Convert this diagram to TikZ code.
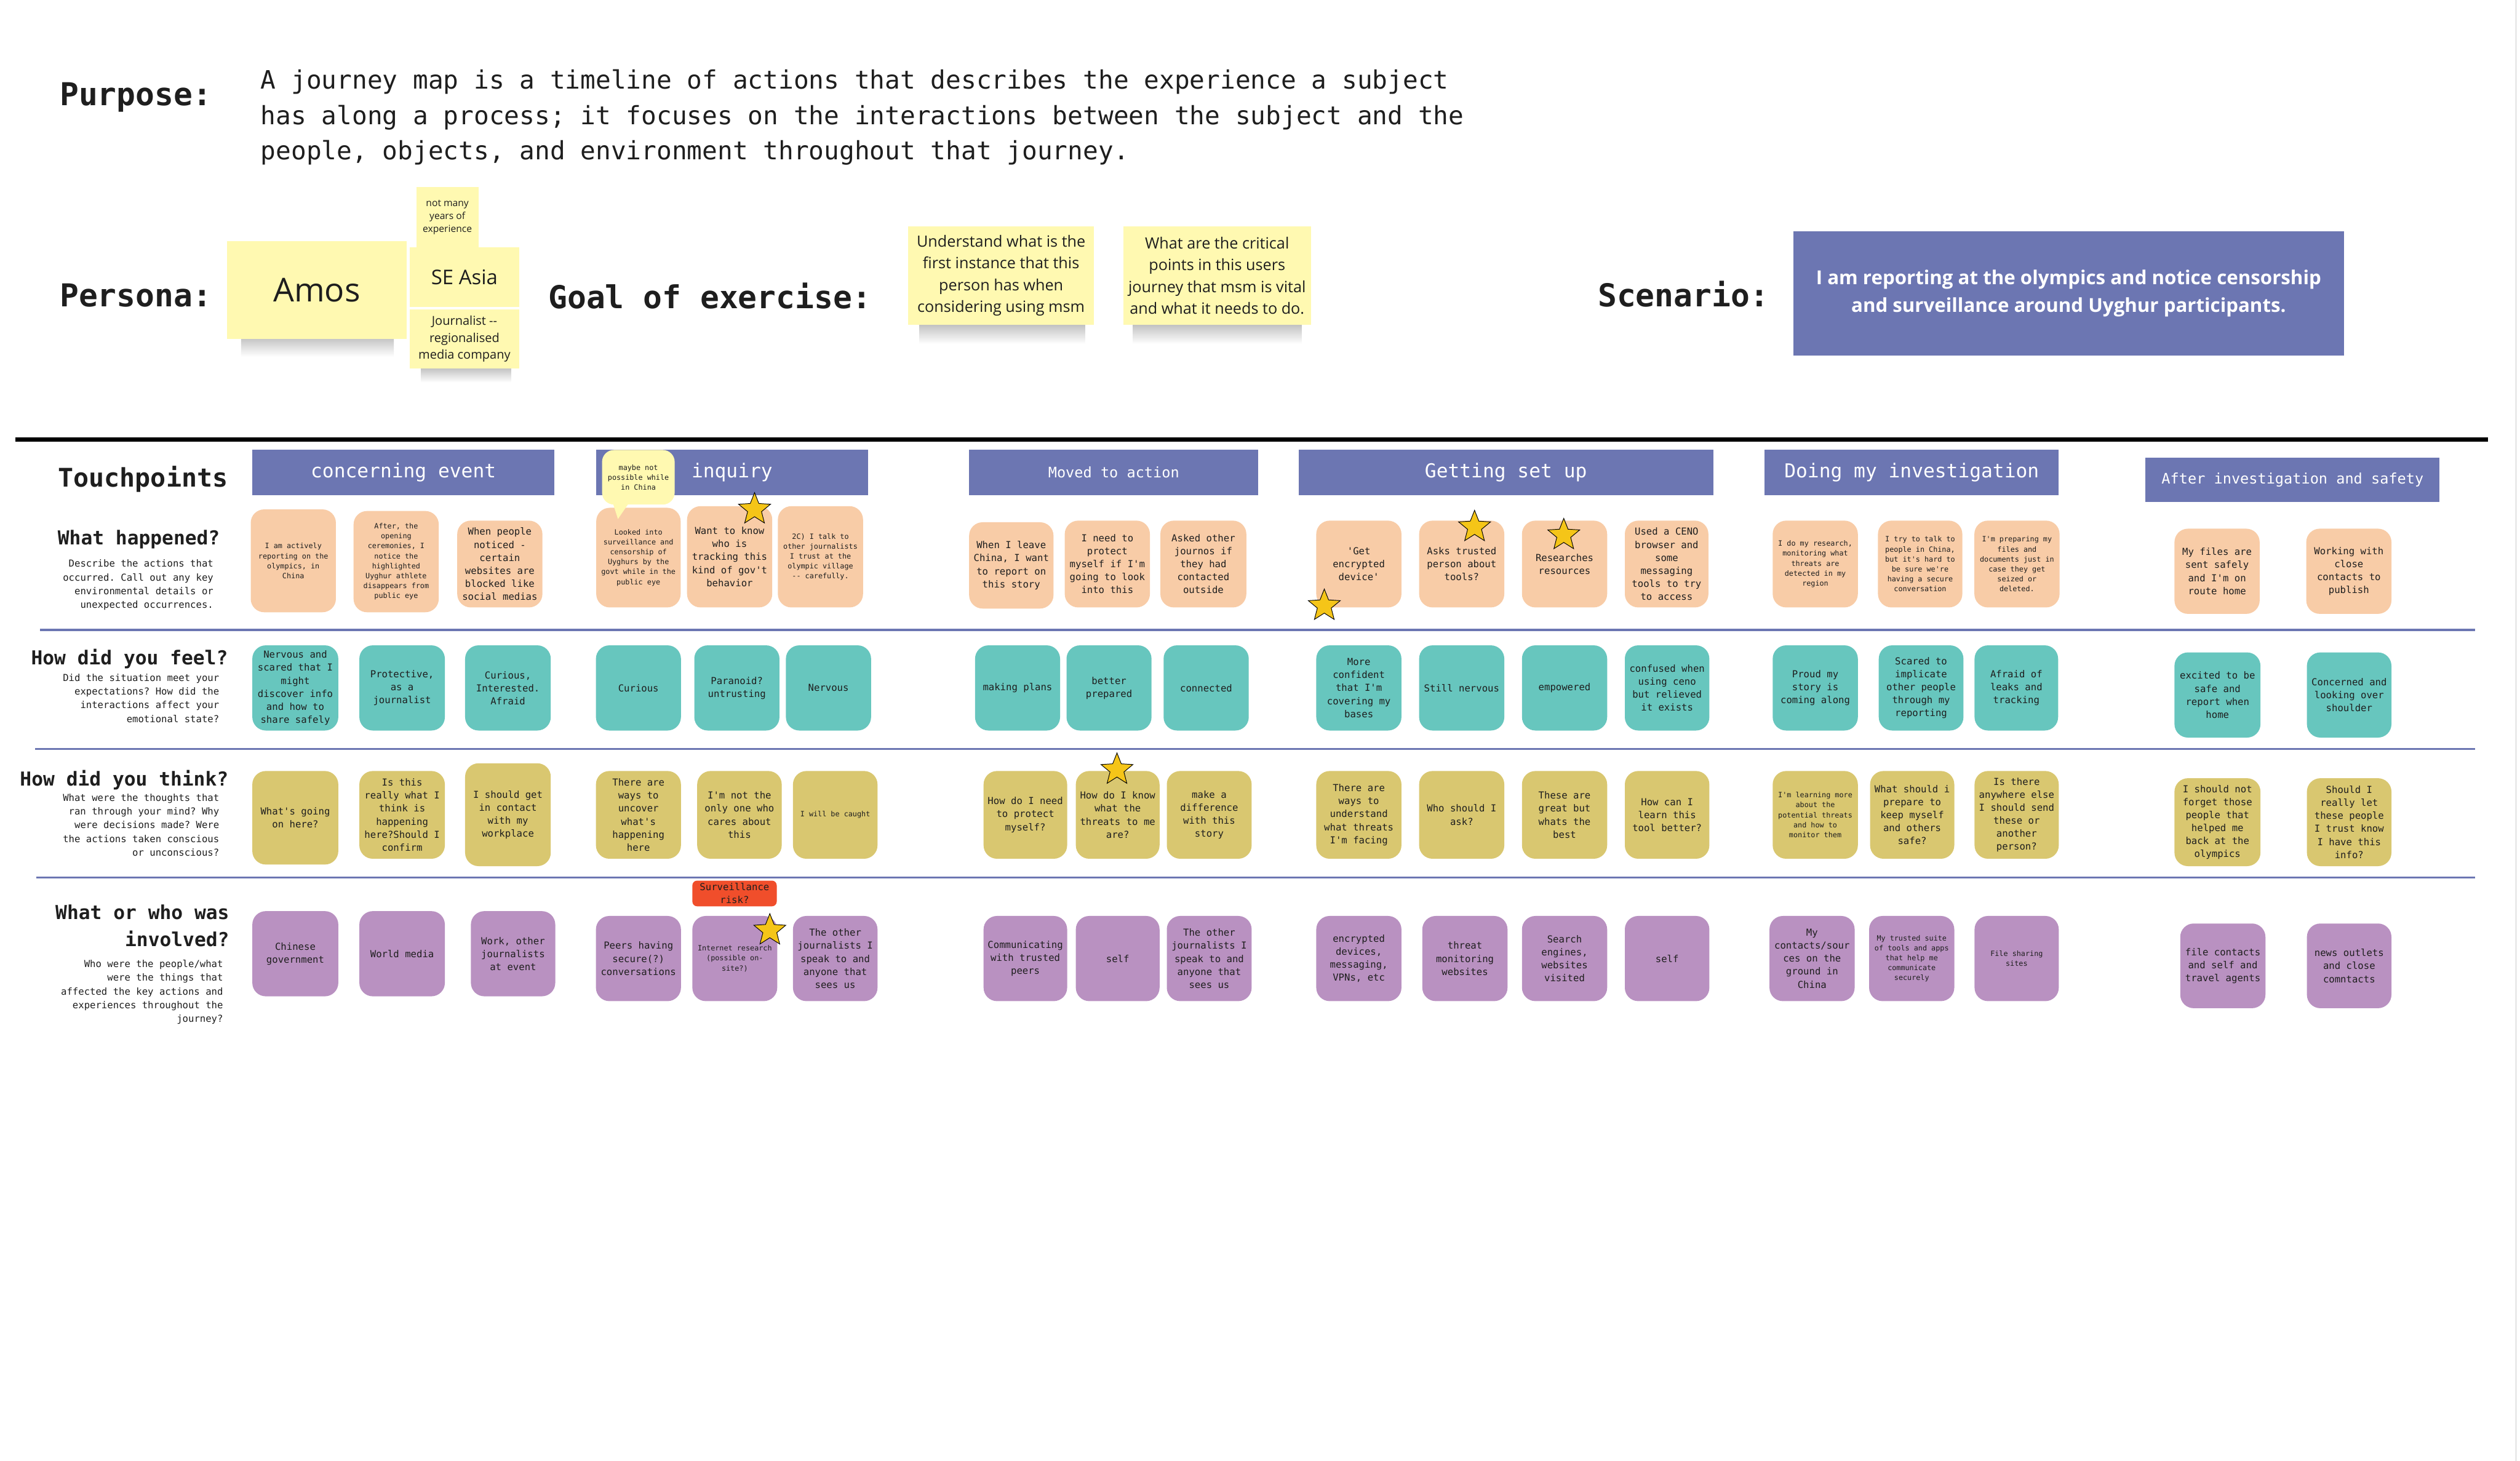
\documentclass[tikz,border=0pt]{standalone}
\usepackage{fontspec}
\setmainfont{Open Sans}
\setmonofont{DejaVu Sans Mono}
\usetikzlibrary{shapes.geometric}
\definecolor{hdrblue}{HTML}{6C76B2}
\definecolor{peach}{HTML}{F8CCA7}
\definecolor{tealn}{HTML}{67C6BE}
\definecolor{khaki}{HTML}{D9C770}
\definecolor{purp}{HTML}{B991C1}
\definecolor{stickyy}{HTML}{FFF9B1}
\definecolor{redn}{HTML}{F04E2B}
\definecolor{stary}{HTML}{F5C518}
\definecolor{ink}{HTML}{1E1E1E}
\newcommand\jnfont{\ttfamily\fontsize{5.7}{7.7}\selectfont}
\newcommand\jtfont{\ttfamily\fontsize{4.3}{5.9}\selectfont}
\newcommand\jnote[7]{\node[#6, minimum width={(#4-#2)*0.3349mm}, minimum height={(#5-#3)*0.3349mm}] (#1) at ({(#2+#4)/2},{(#3+#5)/2}) {#7};}
\tikzset{
  note/.style={rounded corners=2.8mm, inner sep=0pt, align=center, font=\jnfont, text=ink},
  pk/.style={note, fill=peach},
  tl/.style={note, fill=tealn},
  kh/.style={note, fill=khaki},
  pu/.style={note, fill=purp},
  tny/.style={font=\jtfont},
  bar/.style={fill=hdrblue, inner sep=0pt, text=white, font=\ttfamily\fontsize{11.4}{13}\selectfont},
  barsm/.style={bar, font=\ttfamily\fontsize{8.6}{10}\selectfont},
  ylw/.style={fill=stickyy, inner sep=0pt, align=center, text=ink},
  starn/.style={star, star points=5, star point ratio=2.3, fill=stary, draw=black, line width=0.35pt, minimum size=7mm, inner sep=0pt},
  rowtitle/.style={anchor=east, align=right, font=\ttfamily\bfseries\fontsize{11.4}{16}\selectfont, text=ink, inner sep=0pt},
  rowdesc/.style={anchor=east, align=right, font=\ttfamily\fontsize{5.7}{8.1}\selectfont, text=ink, inner sep=0pt},
  bigtitle/.style={anchor=west, font=\ttfamily\bfseries\fontsize{18.7}{22}\selectfont, inner sep=0pt, text=ink},
  sepline/.style={draw=hdrblue, line width=0.44mm},
  shd/.style={top color=black!24, bottom color=white}
}
\begin{document}
\begin{tikzpicture}[x=0.3349mm, y=-0.3349mm]
\useasboundingbox (0,0) rectangle (1568,909);
\fill[white] (0,0) rectangle (1568,909);
\draw[black!22, line width=0.4pt] (1565.5,0) -- (1565.5,909);

% ---------- header ----------
\node[bigtitle] (purpose) at (37,60.5) {Purpose:};
\node[anchor=west, align=left, inner sep=0pt, text=ink, font=\ttfamily\fontsize{15}{21}\selectfont] (purposetext) at (162,73)
 {A journey map is a timeline of actions that describes the experience a subject\\has along a process; it focuses on the interactions between the subject and the\\people, objects, and environment throughout that journey.};

\node[bigtitle] (persona) at (37,184) {Persona:};
\node[bigtitle] (goal) at (341,184) {Goal of exercise:};
\node[bigtitle] (scen) at (994,183) {Scenario:};

% sticky shadows
\shade[shd] (150,210) rectangle (245,222);
\shade[shd] (262,229) rectangle (318,238);
\shade[shd] (572,202) rectangle (675,214);
\shade[shd] (705,202) rectangle (810,214);

\jnote{amos}{141.4}{150}{252.9}{210.8}{ylw, font=\fontsize{19.5}{22}\selectfont}{Amos}
\jnote{years}{259}{116.5}{297.7}{154}{ylw, font=\fontsize{5.7}{7.6}\selectfont}{not many\\years of\\experience}
\jnote{seasia}{255}{154}{323}{191}{ylw, font=\fontsize{12}{14}\selectfont}{SE Asia}
\jnote{journo}{255}{192.5}{323}{229.4}{ylw, font=\fontsize{7.3}{10}\selectfont}{Journalist -{}-\\regionalised\\media company}
\jnote{goalA}{565}{141}{680.8}{202}{ylw, font=\fontsize{9.2}{12.9}\selectfont}{Understand what is the\\first instance that this\\person has when\\considering using msm}
\jnote{goalB}{699}{141}{815.6}{202}{ylw, font=\fontsize{9.2}{12.9}\selectfont}{What are the critical\\points in this users\\journey that msm is vital\\and what it needs to do.}
\jnote{scenario}{1115.7}{144}{1458.6}{221.3}{fill=hdrblue, inner sep=0pt, align=center, text=white, font=\bfseries\fontsize{11.4}{16.4}\selectfont}{I am reporting at the olympics and notice censorship\\and surveillance around Uyghur participants.}

% ---------- rules ----------
\draw[black, line width=0.8mm] (9.5,273.5) -- (1548,273.5);
\draw[sepline] (25,392) -- (1540,392);
\draw[sepline] (22,466) -- (1540,466);
\draw[sepline] (22.5,546) -- (1540,546);

% ---------- row labels ----------
\node[anchor=east, inner sep=0pt, text=ink, font=\ttfamily\bfseries\fontsize{15.2}{18}\selectfont] (touch) at (142,298) {Touchpoints};
\node[rowtitle] (happened) at (137,335.5) {What happened?};
\node[rowdesc] (happeneddesc) at (133,364) {Describe the actions that\\occurred. Call out any key\\environmental details or\\unexpected occurrences.};
\node[rowtitle] (feel) at (142,410) {How did you feel?};
\node[rowdesc] (feeldesc) at (136.6,434.5) {Did the situation meet your\\expectations? How did the\\interactions affect your\\emotional state?};
\node[rowtitle] (think) at (142.3,485.5) {How did you think?};
\node[rowdesc] (thinkdesc) at (136.6,513.4) {What were the thoughts that\\ran through your mind? Why\\were decisions made? Were\\the actions taken conscious\\or unconscious?};
\node[rowtitle] (involved) at (142.8,576) {What or who was\\involved?};
\node[rowdesc] (involveddesc) at (139,617.4) {Who were the people/what\\were the things that\\affected the key actions and\\experiences throughout the\\journey?};

% ---------- stage bars ----------
\jnote{barA}{157}{280}{345}{308}{bar}{concerning event}
\jnote{barB}{371}{280}{540}{308}{bar}{inquiry}
\jnote{barC}{603}{280}{783}{308}{barsm}{Moved to action}
\jnote{barD}{808}{280}{1066}{308}{bar}{Getting set up}
\jnote{barE}{1098}{280}{1281}{308}{bar}{Doing my investigation}
\jnote{barF}{1335}{284.7}{1518}{312.3}{barsm}{After investigation and safety}

% ---------- row 1: what happened ----------
\jnote{S1}{156}{317}{209}{381}{pk,tny}{I am actively\\reporting on the\\olympics, in\\China}
\jnote{S2}{220}{318}{273}{381}{pk,tny}{After, the\\opening\\ceremonies, I\\notice the\\highlighted\\Uyghur athlete\\disappears from\\public eye}
\jnote{S3}{284.5}{324}{337.5}{378}{pk}{When people\\noticed -\\certain\\websites are\\blocked like\\social medias}
\jnote{S4}{371}{316}{423.5}{378}{pk,tny}{Looked into\\surveillance and\\censorship of\\Uyghurs by the\\govt while in the\\public eye}
\jnote{S5}{427.5}{315}{480.5}{378}{pk}{Want to know\\who is\\tracking this\\kind of gov't\\behavior}
\jnote{S6}{484}{315}{537}{378}{pk,tny}{2C) I talk to\\other journalists\\I trust at the\\olympic village\\-- carefully.}
\jnote{M1}{603}{325}{655.5}{378.7}{pk}{When I leave\\China, I want\\to report on\\this story}
\jnote{M2}{662.5}{324}{715.5}{378}{pk}{I need to\\protect\\myself if I'm\\going to look\\into this}
\jnote{M3}{722}{324}{775.5}{378}{pk}{Asked other\\journos if\\they had\\contacted\\outside}
\jnote{G1}{819}{324}{872}{378}{pk}{'Get\\encrypted\\device'}
\jnote{G2}{883}{324}{936}{378}{pk}{Asks trusted\\person about\\tools?}
\jnote{G3}{947}{324}{1000}{378}{pk}{Researches\\resources}
\jnote{G4}{1011}{324}{1063}{378}{pk}{Used a CENO\\browser and\\some\\messaging\\tools to try\\to access}
\jnote{D1}{1103}{324}{1156}{378}{pk,tny}{I do my research,\\monitoring what\\threats are\\detected in my\\region}
\jnote{D2}{1168.5}{324}{1221}{378}{pk,tny}{I try to talk to\\people in China,\\but it's hard to\\be sure we're\\having a secure\\conversation}
\jnote{D3}{1228.5}{324}{1281.5}{378}{pk,tny}{I'm preparing my\\files and\\documents just in\\case they get\\seized or\\deleted.}
\jnote{A1}{1353}{329}{1406}{382}{pk}{My files are\\sent safely\\and I'm on\\route home}
\jnote{A2}{1435}{329}{1488}{382}{pk}{Working with\\close\\contacts to\\publish}

% speech bubble
\jnote{bub}{374.6}{280}{419.8}{314}{ylw, rounded corners=2.5mm, font=\jtfont}{maybe not\\possible while\\in China}
\fill[stickyy] (381,312) -- (392,312) -- (384.5,323) -- cycle;

% ---------- row 2: feel ----------
\jnote{F1}{157}{401.6}{210.5}{454.6}{tl}{Nervous and\\scared that I\\might\\discover info\\and how to\\share safely}
\jnote{F2}{223.6}{401.6}{276.8}{454.6}{tl}{Protective,\\as a\\journalist}
\jnote{F3}{289.4}{401.6}{342.7}{454.6}{tl}{Curious,\\Interested.\\Afraid}
\jnote{F4}{370.8}{401.6}{423.7}{454.6}{tl}{Curious}
\jnote{F5}{432}{401.6}{485}{454.6}{tl}{Paranoid?\\untrusting}
\jnote{F6}{489}{401.6}{542}{454.6}{tl}{Nervous}
\jnote{F7}{606.7}{401.6}{659.6}{454.6}{tl}{making plans}
\jnote{F8}{663.6}{401.6}{716.5}{454.6}{tl}{better\\prepared}
\jnote{F9}{724}{401.6}{777}{454.6}{tl}{connected}
\jnote{F10}{819}{401.6}{872}{454.6}{tl}{More\\confident\\that I'm\\covering my\\bases}
\jnote{F11}{883}{401.6}{936}{454.6}{tl}{Still nervous}
\jnote{F12}{947}{401.6}{1000}{454.6}{tl}{empowered}
\jnote{F13}{1011}{401.6}{1063.6}{454.6}{tl}{confused when\\using ceno\\but relieved\\it exists}
\jnote{F14}{1103}{401.6}{1156}{454.6}{tl}{Proud my\\story is\\coming along}
\jnote{F15}{1169}{401.6}{1221.7}{454.6}{tl}{Scared to\\implicate\\other people\\through my\\reporting}
\jnote{F16}{1228.6}{401.6}{1280.6}{454.6}{tl}{Afraid of\\leaks and\\tracking}
\jnote{F17}{1353}{406}{1406.5}{459}{tl}{excited to be\\safe and\\report when\\home}
\jnote{F18}{1435.4}{406}{1488}{459}{tl}{Concerned and\\looking over\\shoulder}

% ---------- row 3: think ----------
\jnote{T1}{157}{479.8}{210.5}{538}{kh}{What's going\\on here?}
\jnote{T2}{223.6}{479.8}{276.8}{534.4}{kh}{Is this\\really what I\\think is\\happening\\here?Should I\\confirm}
\jnote{T3}{289.4}{475}{342.7}{539}{kh}{I should get\\in contact\\with my\\workplace}
\jnote{T4}{370.8}{479.8}{423.7}{534.4}{kh}{There are\\ways to\\uncover\\what's\\happening\\here}
\jnote{T5}{433.8}{479.8}{486.4}{534.4}{kh}{I'm not the\\only one who\\cares about\\this}
\jnote{T6}{493.4}{479.8}{546}{534.4}{kh,tny}{I will be caught}
\jnote{T7}{612}{479.8}{664}{534.4}{kh}{How do I need\\to protect\\myself?}
\jnote{T8}{669.4}{479.8}{721.5}{534.4}{kh}{How do I know\\what the\\threats to me\\are?}
\jnote{T9}{726}{479.8}{778.8}{534.4}{kh}{make a\\difference\\with this\\story}
\jnote{T10}{819}{479.8}{872}{534.4}{kh}{There are\\ways to\\understand\\what threats\\I'm facing}
\jnote{T11}{883}{479.8}{936}{534.4}{kh}{Who should I\\ask?}
\jnote{T12}{947}{479.8}{1000}{534.4}{kh}{These are\\great but\\whats the\\best}
\jnote{T13}{1011}{479.8}{1063.6}{534.4}{kh}{How can I\\learn this\\tool better?}
\jnote{T14}{1103}{479.8}{1156}{534.4}{kh,tny}{I'm learning more\\about the\\potential threats\\and how to\\monitor them}
\jnote{T15}{1163.6}{479.8}{1216}{534.4}{kh}{What should i\\prepare to\\keep myself\\and others\\safe?}
\jnote{T16}{1228.6}{479.8}{1281}{534.4}{kh}{Is there\\anywhere else\\I should send\\these or\\another\\person?}
\jnote{T17}{1353}{484.3}{1406.5}{539}{kh}{I should not\\forget those\\people that\\helped me\\back at the\\olympics}
\jnote{T18}{1435.4}{484.3}{1488}{539}{kh}{Should I\\really let\\these people\\I trust know\\I have this\\info?}

% ---------- row 4: involved ----------
\jnote{I1}{157}{567}{210.5}{620}{pu}{Chinese\\government}
\jnote{I2}{223.6}{567}{276.8}{620}{pu}{World media}
\jnote{I3}{293}{567}{345.5}{620}{pu}{Work, other\\journalists\\at event}
\jnote{I4}{370.8}{570}{423.7}{623}{pu}{Peers having\\secure(?)\\conversations}
\jnote{I5}{430.8}{570}{483.6}{623}{pu,tny}{Internet research\\(possible on-\\site?)}
\jnote{I6}{493.4}{570}{546}{623}{pu}{The other\\journalists I\\speak to and\\anyone that\\sees us}
\jnote{I7}{612}{570}{664}{623}{pu}{Communicating\\with trusted\\peers}
\jnote{I8}{669.4}{570}{721.5}{623}{pu}{self}
\jnote{I9}{726}{570}{778.8}{623}{pu}{The other\\journalists I\\speak to and\\anyone that\\sees us}
\jnote{I10}{819}{570}{872}{623}{pu}{encrypted\\devices,\\messaging,\\VPNs, etc}
\jnote{I11}{885}{570}{938}{623}{pu}{threat\\monitoring\\websites}
\jnote{I12}{947}{570}{1000}{623}{pu}{Search\\engines,\\websites\\visited}
\jnote{I13}{1011}{570}{1063.6}{623}{pu}{self}
\jnote{I14}{1101}{570}{1154}{623}{pu}{My\\contacts/sour\\ces on the\\ground in\\China}
\jnote{I15}{1163}{570}{1216}{623}{pu,tny}{My trusted suite\\of tools and apps\\that help me\\communicate\\securely}
\jnote{I16}{1228.6}{570}{1281}{623}{pu,tny}{File sharing\\sites}
\jnote{I17}{1356.6}{574.7}{1409.6}{627.4}{pu}{file contacts\\and self and\\travel agents}
\jnote{I18}{1435.4}{574.7}{1488}{627.4}{pu}{news outlets\\and close\\comntacts}
\jnote{risk}{430.8}{548}{483.3}{564}{note, fill=redn, rounded corners=1mm}{Surveillance\\risk?}

% ---------- stars ----------
\node[starn] (starA) at (469.5,317) {};
\node[starn] (starB) at (824,377) {};
\node[starn] (starC) at (917.5,328) {};
\node[starn] (starD) at (973,333) {};
\node[starn] (starE) at (695,479) {};
\node[starn] (starF) at (479,579) {};
\end{tikzpicture}
\end{document}
